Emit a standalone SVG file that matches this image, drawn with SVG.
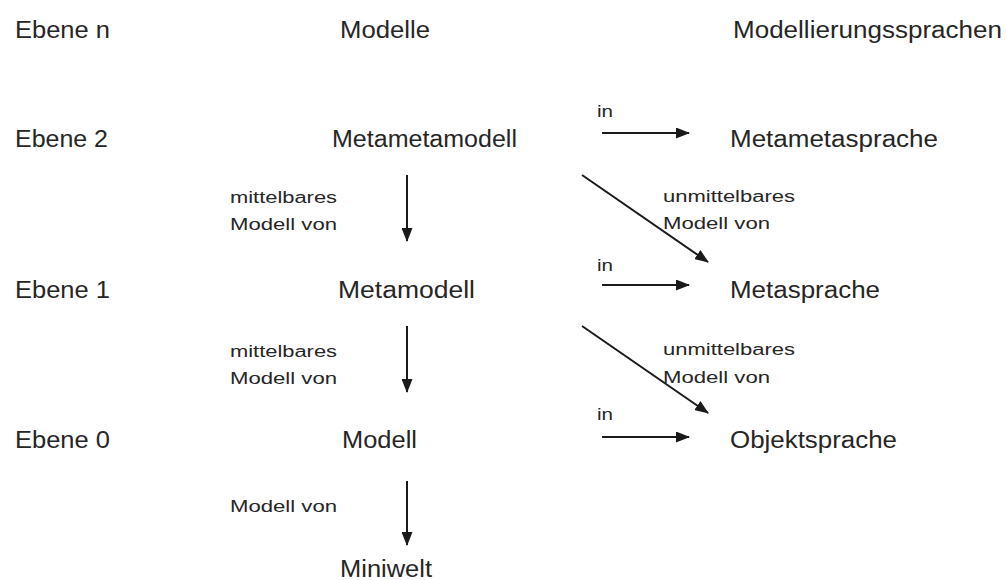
<svg xmlns="http://www.w3.org/2000/svg" width="1006" height="580" viewBox="0 0 1006 580">
<style>
  .big { font-family: "Liberation Sans", Arial, sans-serif; font-size: 23px; fill: #262626; }
  .small { font-family: "Liberation Sans", Arial, sans-serif; font-size: 16px; fill: #262626; }
  .edge { stroke: #1a1a1a; stroke-width: 2; fill: none; marker-end: url(#ah); }
</style>
<defs>
  <marker id="ah" viewBox="0 0 14 11" refX="13" refY="5.5" markerUnits="userSpaceOnUse" markerWidth="14" markerHeight="11" orient="auto">
    <path d="M0,0 L14,5.5 L0,11 z" fill="#1a1a1a"/>
  </marker>
</defs>
<rect width="1006" height="580" fill="#ffffff"/>

<g id="levels">
  <text class="big" x="15" y="38" textLength="95" lengthAdjust="spacingAndGlyphs">Ebene n</text>
  <text class="big" x="15" y="147" textLength="93" lengthAdjust="spacingAndGlyphs">Ebene 2</text>
  <text class="big" x="15" y="298" textLength="95" lengthAdjust="spacingAndGlyphs">Ebene 1</text>
  <text class="big" x="15" y="448" textLength="95" lengthAdjust="spacingAndGlyphs">Ebene 0</text>
</g>
<g id="headers">
  <text class="big" x="340" y="38" textLength="90" lengthAdjust="spacingAndGlyphs">Modelle</text>
  <text class="big" x="733" y="38" textLength="269" lengthAdjust="spacingAndGlyphs">Modellierungssprachen</text>
</g>

<g id="node-metametamodell"><text class="big" x="332" y="147" textLength="185" lengthAdjust="spacingAndGlyphs">Metametamodell</text></g>
<g id="node-metamodell"><text class="big" x="338" y="298" textLength="137" lengthAdjust="spacingAndGlyphs">Metamodell</text></g>
<g id="node-modell"><text class="big" x="342" y="448" textLength="75" lengthAdjust="spacingAndGlyphs">Modell</text></g>
<g id="node-miniwelt"><text class="big" x="340" y="577" textLength="92" lengthAdjust="spacingAndGlyphs">Miniwelt</text></g>
<g id="node-metametasprache"><text class="big" x="730" y="147" textLength="208" lengthAdjust="spacingAndGlyphs">Metametasprache</text></g>
<g id="node-metasprache"><text class="big" x="730" y="298" textLength="150" lengthAdjust="spacingAndGlyphs">Metasprache</text></g>
<g id="node-objektsprache"><text class="big" x="730" y="448" textLength="167" lengthAdjust="spacingAndGlyphs">Objektsprache</text></g>

<g id="connectors">
  <line class="edge" x1="407" y1="175" x2="407" y2="241"/>
  <line class="edge" x1="407" y1="326" x2="407" y2="392"/>
  <line class="edge" x1="407" y1="481" x2="407" y2="545"/>
  <line class="edge" x1="602" y1="133" x2="689" y2="133"/>
  <line class="edge" x1="602" y1="285" x2="689" y2="285"/>
  <line class="edge" x1="602" y1="437" x2="689" y2="437"/>
  <line class="edge" x1="582" y1="175" x2="708" y2="262"/>
  <line class="edge" x1="582" y1="326" x2="708" y2="413"/>
</g>

<g id="connector-labels">
  <text class="small" x="230" y="203" textLength="107" lengthAdjust="spacingAndGlyphs">mittelbares</text>
  <text class="small" x="230" y="230" textLength="107" lengthAdjust="spacingAndGlyphs">Modell von</text>
  <text class="small" x="230" y="357" textLength="107" lengthAdjust="spacingAndGlyphs">mittelbares</text>
  <text class="small" x="230" y="384" textLength="107" lengthAdjust="spacingAndGlyphs">Modell von</text>
  <text class="small" x="230" y="512" textLength="107" lengthAdjust="spacingAndGlyphs">Modell von</text>
  <text class="small" x="663" y="202" textLength="132" lengthAdjust="spacingAndGlyphs">unmittelbares</text>
  <text class="small" x="663" y="229" textLength="107" lengthAdjust="spacingAndGlyphs">Modell von</text>
  <text class="small" x="663" y="355" textLength="132" lengthAdjust="spacingAndGlyphs">unmittelbares</text>
  <text class="small" x="663" y="383" textLength="107" lengthAdjust="spacingAndGlyphs">Modell von</text>
  <text class="small" x="597" y="117" textLength="16" lengthAdjust="spacingAndGlyphs">in</text>
  <text class="small" x="597" y="271" textLength="16" lengthAdjust="spacingAndGlyphs">in</text>
  <text class="small" x="597" y="420" textLength="16" lengthAdjust="spacingAndGlyphs">in</text>
</g>
</svg>
